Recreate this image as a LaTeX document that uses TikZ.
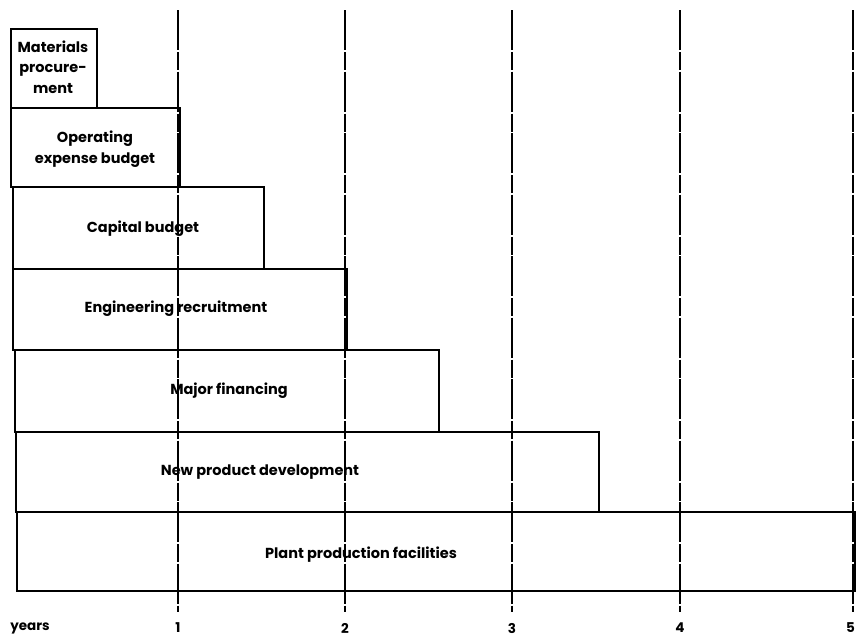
\documentclass[tikz,border=0pt]{standalone}
\usepackage{fontspec}
\setmainfont{Poppins}
\begin{document}
\begin{tikzpicture}[x=1pt,y=-1pt,
  bar/.style={draw=black, line width=1.6pt, anchor=north west, inner sep=0pt},
  lbl/.style={font=\bfseries\fontsize{14.5}{20.5}\selectfont, align=center, inner sep=0pt},
  yr/.style={font=\bfseries\fontsize{13.5}{15}\selectfont, inner sep=0pt},
  grid/.style={line width=1.9pt, dash pattern=on 40pt off 2pt on 18pt off 1.5pt}]
\useasboundingbox (0,0) rectangle (856,640);
\fill[white] (0,0) rectangle (856,640);
% bars
\node[bar, minimum width=86pt, minimum height=79pt] (mat) at (10,28) {};
\node[bar, minimum width=169pt, minimum height=79pt] (ope) at (10,107) {};
\node[bar, minimum width=251pt, minimum height=82pt] (cap) at (12,186) {};
\node[bar, minimum width=334pt, minimum height=81pt] (eng) at (12,268) {};
\node[bar, minimum width=424pt, minimum height=82pt] (maj) at (14,349) {};
\node[bar, minimum width=583pt, minimum height=80pt] (npd) at (15,431) {};
\node[bar, minimum width=838pt, minimum height=79pt] (ppf) at (16,511) {};
% year gridlines
\foreach \n/\x in {1/178,2/345,3/512,4/680,5/853} {
  \coordinate (t\n) at (\x,10);
  \coordinate (b\n) at (\x,612);
  \draw[grid] (t\n) -- (b\n);
}
% labels
\node[lbl] (tmat) at (53,67) {Materials\\procure-\\ment};
\node[lbl] (tope) at (95,149) {Operating\\expense budget};
\node[lbl] (tcap) at (143,229) {Capital budget};
\node[lbl] (teng) at (176,309) {Engineering recruitment};
\node[lbl] (tmaj) at (229,391) {Major financing};
\node[lbl] (tnpd) at (260,472) {New product development};
\node[lbl] (tppf) at (361,555) {Plant production facilities};
% axis labels
\node[yr] (years) at (30,628) {years};
\node[yr] (y1) at (178,628) {1};
\node[yr] (y2) at (345,628) {2};
\node[yr] (y3) at (512,628) {3};
\node[yr] (y4) at (680,628) {4};
\node[yr, anchor=east] (y5) at (855,628) {5};
\end{tikzpicture}
\end{document}
